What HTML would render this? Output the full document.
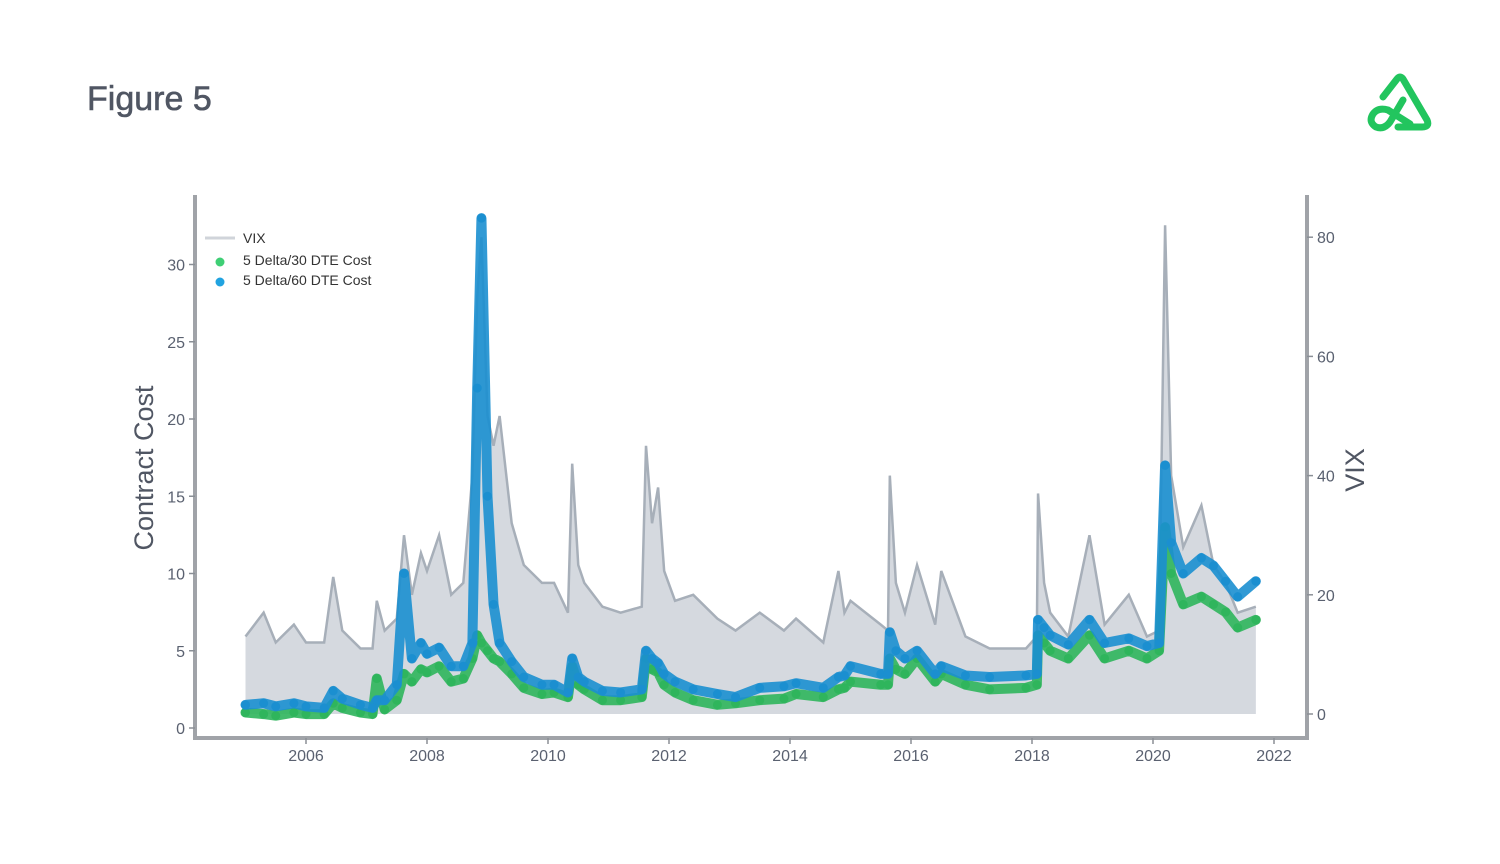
<!DOCTYPE html>
<html><head><meta charset="utf-8"><style>
body{margin:0;background:#fff;}
svg text{font-family:"Liberation Sans",sans-serif;}
</style></head><body>
<svg width="1500" height="859" viewBox="0 0 1500 859">
<text x="87" y="110" font-size="34" fill="#505663" stroke="#505663" stroke-width="0.6">Figure 5</text>
<g fill="none" stroke="#22c55e" stroke-width="7" stroke-linecap="round" stroke-linejoin="round">
<path d="M1383,97 L1397,79 Q1400,75 1403,79 L1427,120 Q1430,127 1422,127 L1398,127"/>
<path d="M1403,100 L1390,122 Q1384,130 1376,127 Q1368,122 1373,114 Q1378,107 1388,110 L1410,124"/>
</g>
<g id="plot"></g>
</svg>
<script>
const dates=[2005.0,2005.3,2005.5,2005.8,2006.0,2006.3,2006.45,2006.6,2006.9,2007.1,2007.17,2007.3,2007.5,2007.62,2007.75,2007.9,2008.0,2008.2,2008.4,2008.6,2008.75,2008.83,2008.9,2009.0,2009.1,2009.2,2009.4,2009.6,2009.9,2010.1,2010.33,2010.4,2010.5,2010.6,2010.9,2011.2,2011.55,2011.62,2011.72,2011.82,2011.92,2012.1,2012.4,2012.8,2013.1,2013.5,2013.9,2014.1,2014.55,2014.8,2014.9,2015.0,2015.5,2015.62,2015.65,2015.75,2015.9,2016.1,2016.4,2016.5,2016.9,2017.3,2017.9,2018.08,2018.1,2018.2,2018.3,2018.6,2018.95,2019.2,2019.6,2019.9,2020.1,2020.2,2020.3,2020.5,2020.8,2021.0,2021.2,2021.4,2021.7];
const vix=[13,17,12,15,12,12,23,14,11,11,19,14,16,30,20,27,24,30,20,22,40,70,80,50,45,50,32,25,22,22,17,42,25,22,18,17,18,45,32,38,24,19,20,16,14,17,14,16,12,24,17,19,15,14,40,22,17,25,15,24,13,11,11,13,37,22,17,13,30,15,20,13,14,82,40,28,35,25,22,17,18];
const cost30=[1.0,0.9,0.8,1.0,0.9,0.9,1.6,1.3,1.0,0.9,3.2,1.2,1.8,3.5,3.0,3.8,3.6,4.0,3.0,3.2,4.5,6.0,5.5,5.0,4.5,4.3,3.5,2.6,2.2,2.3,2.0,4.0,2.8,2.5,1.8,1.8,2.0,4.5,3.8,3.6,2.8,2.3,1.8,1.5,1.6,1.8,1.9,2.2,2.0,2.5,2.6,3.0,2.8,2.8,4.5,3.8,3.5,4.5,3.0,3.5,2.8,2.5,2.6,2.8,6.0,5.5,5.0,4.5,6.0,4.5,5.0,4.5,5.0,13,10,8,8.5,8,7.5,6.5,7.0];
const cost60=[1.5,1.6,1.4,1.6,1.4,1.3,2.4,1.9,1.5,1.3,1.8,1.8,2.8,10,4.5,5.5,4.8,5.2,4.0,4.0,5.5,22,33,15,8,5.5,4.3,3.3,2.8,2.8,2.3,4.5,3.3,3.0,2.4,2.3,2.5,5.0,4.5,4.2,3.5,3.0,2.5,2.2,2.0,2.6,2.7,2.9,2.6,3.3,3.4,4.0,3.5,3.5,6.2,5.0,4.5,5.0,3.5,4.0,3.4,3.3,3.4,3.5,7.0,6.5,6.0,5.4,7.0,5.5,5.8,5.3,5.5,17,12,10,11,10.5,9.5,8.5,9.5];
const leftTicks=[0,5,10,15,20,25,30];
const rightTicks=[0,20,40,60,80];
const xTicks=[2006,2008,2010,2012,2014,2016,2018,2020,2022];

const NS="http://www.w3.org/2000/svg";
const g=document.getElementById('plot');
const X=t=>306+(t-2006)*60.5;
const YL=v=>728-v*15.45;
const YR=v=>714-v*5.96;
function el(tag,attrs){const e=document.createElementNS(NS,tag);for(const k in attrs)e.setAttribute(k,attrs[k]);g.appendChild(e);return e;}

let d='M'+X(dates[0])+','+YR(0);
dates.forEach((t,i)=>{d+=' L'+X(t)+','+YR(vix[i]);});
d+=' L'+X(dates[dates.length-1])+','+YR(0)+' Z';
const area=el('path',{d:d,fill:'#d5d9df',stroke:'none'});


const line=el('polyline',{points:dates.map((t,i)=>X(t)+','+YR(vix[i])).join(' '),fill:'none',stroke:'#a7afb9','stroke-width':2.5});



function series(vals,color,name){
  const pl=el('polyline',{points:dates.map((t,i)=>X(t)+','+YL(vals[i])).join(' '),fill:'none',stroke:color,'stroke-width':10,'stroke-linejoin':'round','stroke-linecap':'round','opacity':0.9});
  
  
  dates.forEach((t,i)=>{
    const c=el('circle',{cx:X(t),cy:YL(vals[i]),r:4.5,fill:color});
    
    
  });
}
series(cost30,'#2fb55c','cost-30dte');
series(cost60,'#1b8fd0','cost-60dte');

const ax=el('path',{d:'M195,195 L195,738 L1307,738 L1307,195',fill:'none',stroke:'#a0a3a8','stroke-width':4});


leftTicks.forEach(v=>{
  el('line',{x1:189,x2:195,y1:YL(v),y2:YL(v),stroke:'#8a8f96','stroke-width':1.5});
  const t=el('text',{x:185,y:YL(v)+6,'text-anchor':'end','font-size':16,fill:'#5a6170'});t.textContent=v;
  
  
});
rightTicks.forEach(v=>{
  el('line',{x1:1307,x2:1313,y1:YR(v),y2:YR(v),stroke:'#8a8f96','stroke-width':1.5});
  const t=el('text',{x:1317,y:YR(v)+6,'font-size':16,fill:'#5a6170'});t.textContent=v;
  
  
});
xTicks.forEach(v=>{
  el('line',{x1:X(v),x2:X(v),y1:738,y2:744,stroke:'#8a8f96','stroke-width':1.5});
  const t=el('text',{x:X(v),y:761,'text-anchor':'middle','font-size':16,fill:'#5a6170'});t.textContent=v;
  
  
});
const yl=el('text',{x:0,y:0,transform:'translate(153,468) rotate(-90)','text-anchor':'middle','font-size':27,fill:'#505663'});yl.textContent='Contract Cost';


const yr=el('text',{x:0,y:0,transform:'translate(1364,470) rotate(-90)','text-anchor':'middle','font-size':27,fill:'#505663'});yr.textContent='VIX';



el('line',{x1:205,x2:235,y1:238,y2:238,stroke:'#d0d4da','stroke-width':3});
el('circle',{cx:220,cy:262,r:4.5,fill:'#3fcf75'});
el('circle',{cx:220,cy:282,r:4.5,fill:'#21a3e0'});
[['VIX',243],['5 Delta/30 DTE Cost',265],['5 Delta/60 DTE Cost',285]].forEach(([s,y])=>{
  const t=el('text',{x:243,y:y,'font-size':14,fill:'#333'});t.textContent=s;
  
  
});
</script>
</body></html>
